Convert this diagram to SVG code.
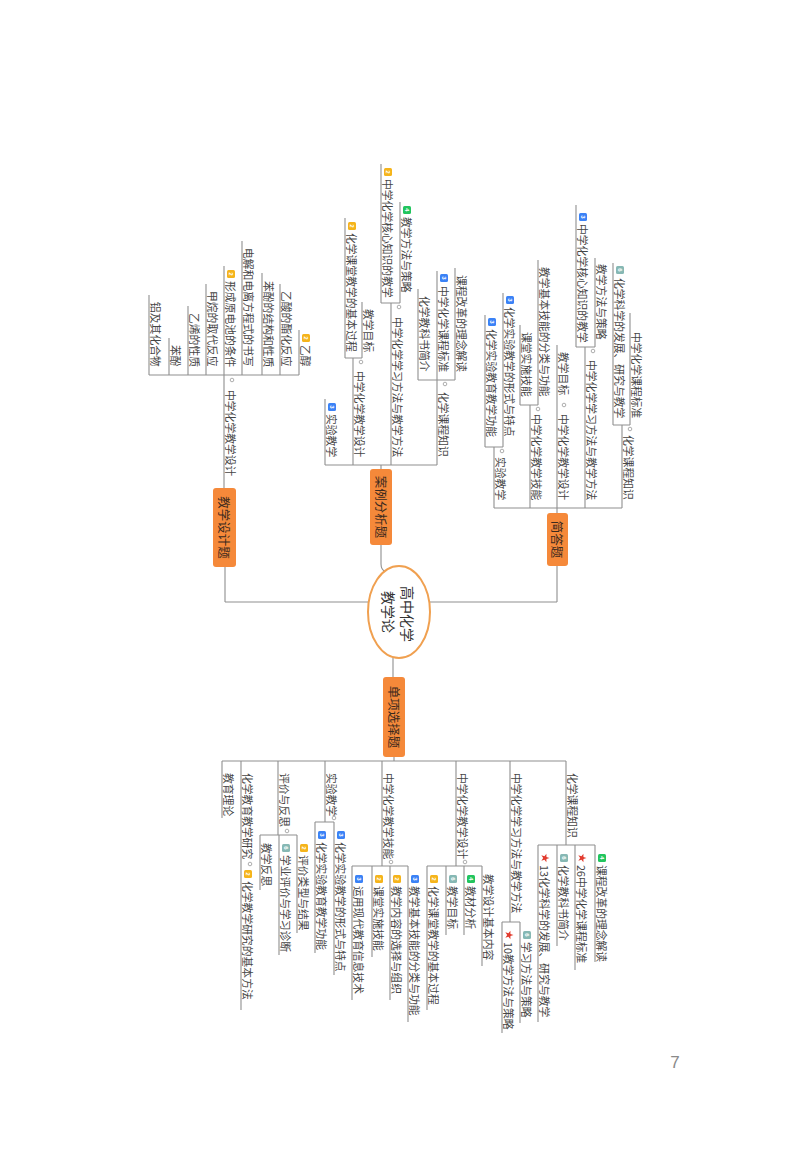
<svg xmlns="http://www.w3.org/2000/svg" xmlns:xlink="http://www.w3.org/1999/xlink" width="800" height="1160" viewBox="0 0 800 1160">
<defs>
<style>
.t{font-family:"Noto Sans CJK SC","Noto Sans",sans-serif;font-size:10.8px;fill:#454545;dominant-baseline:central}
.m{font-family:"Noto Sans CJK SC",sans-serif;font-size:12.5px;fill:#3b2a1e;dominant-baseline:central;text-anchor:middle}
.c{font-family:"Noto Sans CJK SC",sans-serif;font-size:14px;fill:#333;dominant-baseline:central;text-anchor:middle}
.l{stroke:#8f8f8f;stroke-width:1.1;fill:none}
.box{fill:#f5893a}
.b3{fill:#3b82f6}.b2{fill:#f5b41b}.b4{fill:#22c55e}.b6{fill:#86b8b4}
.bn{font-family:"Liberation Sans",sans-serif;font-size:6px;font-weight:bold;fill:#fff;dominant-baseline:central;text-anchor:middle}
.dot{fill:#fff;stroke:#999;stroke-width:0.8}
.st{fill:#e23b2e}
</style>
<polygon id="star" points="0,-4.5 1.06,-1.46 4.28,-1.39 1.71,0.56 2.65,3.64 0,1.8 -2.65,3.64 -1.71,0.56 -4.28,-1.39 -1.06,-1.46"/>
</defs>
<rect width="800" height="1160" fill="#fff"/>

<g id="connectors">
<!-- center -->
<path class="l" d="M225,602 H369 M430,602 H557 M225,567 V602 M557,566 V602"/>
<path class="l" d="M381,545 V564 Q381,570 386,572"/>
<path class="l" d="M393,658 V677"/>
<!-- 简答题 -->
<path class="l" d="M494,508 H622 M557,508 V513"/>
<path class="l" d="M613,425 H630 M576,347 H595 M520,405 H538 M485,447 H503"/>
<!-- 案例分析题 -->
<path class="l" d="M325,465 H437 M381,465 V469"/>
<path class="l" d="M418,380 H455 M381,303 H400 M345,358 H362"/>
<!-- 教学设计题 -->
<path class="l" d="M224,375 V488 M149,375 H299"/>
<!-- 单项选择题 -->
<path class="l" d="M222,761 H566 M394,757 V761"/>
<path class="l" d="M260,835 H297 M315,822 H334 M352,866 H408 M427,866 H482 M502,922 H520 M538,845 H595"/>
</g>

<g id="center">
<ellipse cx="399" cy="612" rx="31" ry="46" fill="#fff" stroke="#f0a050" stroke-width="2"/>
<text class="c" x="408" y="614" transform="rotate(90 408 614)">高中化学</text>
<text class="c" x="389" y="612" transform="rotate(90 389 612)">教学论</text>
</g>

<g id="topic-jianda">
<rect class="box" x="547" y="513" width="21" height="53" rx="3"/>
<text class="m" x="557.5" y="539.5" transform="rotate(90 557.5 539.5)">简答题</text>
</g>
<g id="topic-anli">
<rect class="box" x="370" y="469" width="22" height="76" rx="3"/>
<text class="m" x="381" y="507" transform="rotate(90 381 507)">案例分析题</text>
</g>
<g id="topic-sheji">
<rect class="box" x="213" y="488" width="23" height="79" rx="3"/>
<text class="m" x="224.5" y="527.5" transform="rotate(90 224.5 527.5)">教学设计题</text>
</g>
<g id="topic-xuanze">
<rect class="box" x="383" y="677" width="22" height="80" rx="3"/>
<text class="m" x="394" y="717" transform="rotate(90 394 717)">单项选择题</text>
</g>

<!-- 简答题 children -->
<g id="j-a"><path class="l" d="M622,425 V508"/><circle class="dot" cx="630" cy="429" r="1.8"/><text class="t" x="629" y="435" transform="rotate(90 629 435)">化学课程知识</text></g>
<g id="j-a1"><path class="l" d="M613,263 V425"/><rect class="b6" x="616" y="266" width="8" height="8" rx="1.5"/><text class="bn" x="620" y="270" transform="rotate(90 620 270)">6</text><text class="t" x="620" y="278" transform="rotate(90 620 278)">化学科学的发展、研究与教学</text></g>
<g id="j-a2"><path class="l" d="M630,313 V425"/><text class="t" x="637" y="332" transform="rotate(90 637 332)">中学化学课程标准</text></g>
<g id="j-b"><path class="l" d="M585,347 V508"/><circle class="dot" cx="593" cy="351" r="1.8"/><text class="t" x="592" y="360" transform="rotate(90 592 360)">中学化学学习方法与教学方法</text></g>
<g id="j-b1"><path class="l" d="M576,205 V347"/><rect class="b3" x="579" y="213" width="8" height="8" rx="1.5"/><text class="bn" x="583" y="217" transform="rotate(90 583 217)">3</text><text class="t" x="583" y="224" transform="rotate(90 583 224)">中学化学核心知识的教学</text></g>
<g id="j-b2"><path class="l" d="M595,258 V347"/><text class="t" x="602" y="264" transform="rotate(90 602 264)">教学方法与策略</text></g>
<g id="j-c"><path class="l" d="M557,403 V508"/><circle class="dot" cx="564" cy="405" r="1.8"/><text class="t" x="564" y="414" transform="rotate(90 564 414)">中学化学教学设计</text></g>
<g id="j-c1"><path class="l" d="M557,345 V403"/><text class="t" x="564" y="352" transform="rotate(90 564 352)">教学目标</text></g>
<g id="j-d"><path class="l" d="M530,405 V508"/><circle class="dot" cx="538" cy="409" r="1.8"/><text class="t" x="537" y="414" transform="rotate(90 537 414)">中学化学教学技能</text></g>
<g id="j-d1"><path class="l" d="M520,325 V405"/><text class="t" x="527" y="332" transform="rotate(90 527 332)">课堂实施技能</text></g>
<g id="j-d2"><path class="l" d="M538,260 V405"/><text class="t" x="545" y="267" transform="rotate(90 545 267)">教学基本技能的分类与功能</text></g>
<g id="j-e"><path class="l" d="M494,447 V508"/><circle class="dot" cx="502" cy="451" r="1.8"/><text class="t" x="501" y="457" transform="rotate(90 501 457)">实验教学</text></g>
<g id="j-e1"><path class="l" d="M485,315 V447"/><rect class="b3" x="488" y="318" width="8" height="8" rx="1.5"/><text class="bn" x="492" y="322" transform="rotate(90 492 322)">3</text><text class="t" x="492" y="329" transform="rotate(90 492 329)">化学实验教育教学功能</text></g>
<g id="j-e2"><path class="l" d="M503,293 V447"/><rect class="b3" x="506" y="296" width="8" height="8" rx="1.5"/><text class="bn" x="510" y="300" transform="rotate(90 510 300)">3</text><text class="t" x="510" y="307" transform="rotate(90 510 307)">化学实验教学的形式与特点</text></g>

<!-- 案例分析题 children -->
<g id="a-a"><path class="l" d="M437,380 V465"/><circle class="dot" cx="445" cy="384" r="1.8"/><text class="t" x="444" y="392" transform="rotate(90 444 392)">化学课程知识</text></g>
<g id="a-a1"><path class="l" d="M418,289 V380"/><text class="t" x="425" y="296" transform="rotate(90 425 296)">化学教科书简介</text></g>
<g id="a-a2"><path class="l" d="M437,271 V380"/><rect class="b3" x="440" y="274" width="8" height="8" rx="1.5"/><text class="bn" x="444" y="278" transform="rotate(90 444 278)">3</text><text class="t" x="444" y="286" transform="rotate(90 444 286)">中学化学课程标准</text></g>
<g id="a-a3"><path class="l" d="M455,268 V380"/><text class="t" x="462" y="275" transform="rotate(90 462 275)">课程改革的理念解读</text></g>
<g id="a-b"><path class="l" d="M391,303 V465"/><circle class="dot" cx="399" cy="307" r="1.8"/><text class="t" x="398" y="317" transform="rotate(90 398 317)">中学化学学习方法与教学方法</text></g>
<g id="a-b1"><path class="l" d="M381,164 V303"/><rect class="b2" x="384" y="168" width="8" height="8" rx="1.5"/><text class="bn" x="388" y="172" transform="rotate(90 388 172)">2</text><text class="t" x="388" y="179" transform="rotate(90 388 179)">中学化学核心知识的教学</text></g>
<g id="a-b2"><path class="l" d="M400,202 V303"/><rect class="b4" x="403" y="206" width="8" height="8" rx="1.5"/><text class="bn" x="407" y="210" transform="rotate(90 407 210)">4</text><text class="t" x="407" y="217" transform="rotate(90 407 217)">教学方法与策略</text></g>
<g id="a-c"><path class="l" d="M353,358 V465"/><circle class="dot" cx="361" cy="362" r="1.8"/><text class="t" x="360" y="371" transform="rotate(90 360 371)">中学化学教学设计</text></g>
<g id="a-c1"><path class="l" d="M345,218 V358"/><rect class="b2" x="348" y="222" width="8" height="8" rx="1.5"/><text class="bn" x="352" y="226" transform="rotate(90 352 226)">2</text><text class="t" x="352" y="233" transform="rotate(90 352 233)">化学课堂教学的基本过程</text></g>
<g id="a-c2"><path class="l" d="M362,302 V358"/><text class="t" x="369" y="309" transform="rotate(90 369 309)">教学目标</text></g>
<g id="a-d"><path class="l" d="M325,399 V465"/><rect class="b3" x="328" y="403" width="8" height="8" rx="1.5"/><text class="bn" x="332" y="407" transform="rotate(90 332 407)">3</text><text class="t" x="332" y="414" transform="rotate(90 332 414)">实验教学</text></g>

<!-- 教学设计题 children -->
<g id="s-p"><circle class="dot" cx="232" cy="380" r="1.8"/><text class="t" x="231" y="390" transform="rotate(90 231 390)">中学化学教学设计</text></g>
<g id="s-1"><path class="l" d="M149,295 V375"/><text class="t" x="156" y="302" transform="rotate(90 156 302)">铝及其化合物</text></g>
<g id="s-2"><path class="l" d="M169,338 V375"/><text class="t" x="176" y="345" transform="rotate(90 176 345)">苯酚</text></g>
<g id="s-3"><path class="l" d="M188,306 V375"/><text class="t" x="195" y="313" transform="rotate(90 195 313)">乙烯的性质</text></g>
<g id="s-4"><path class="l" d="M206,284 V375"/><text class="t" x="213" y="291" transform="rotate(90 213 291)">甲烷的取代反应</text></g>
<g id="s-5"><path class="l" d="M224,266 V375"/><rect class="b2" x="227" y="270" width="8" height="8" rx="1.5"/><text class="bn" x="231" y="274" transform="rotate(90 231 274)">2</text><text class="t" x="231" y="281" transform="rotate(90 231 281)">形成原电池的条件</text></g>
<g id="s-6"><path class="l" d="M242,241 V375"/><text class="t" x="249" y="248" transform="rotate(90 249 248)">电解和电离方程式的书写</text></g>
<g id="s-7"><path class="l" d="M262,273 V375"/><text class="t" x="269" y="281" transform="rotate(90 269 281)">苯酚的结构和性质</text></g>
<g id="s-8"><path class="l" d="M280,284 V375"/><text class="t" x="287" y="291" transform="rotate(90 287 291)">乙酸的酯化反应</text></g>
<g id="s-9"><path class="l" d="M299,330 V375"/><rect class="b2" x="302" y="334" width="8" height="8" rx="1.5"/><text class="bn" x="306" y="338" transform="rotate(90 306 338)">2</text><text class="t" x="306" y="345" transform="rotate(90 306 345)">乙醇</text></g>

<!-- 单项选择题 children -->
<g id="x-1"><path class="l" d="M222,761 V818"/><text class="t" x="229" y="773" transform="rotate(90 229 773)">教育理论</text></g>
<g id="x-2"><path class="l" d="M241,761 V1010"/><text class="t" x="248" y="773" transform="rotate(90 248 773)">化学教育教学研究</text><circle class="dot" cx="250" cy="864" r="1.8"/></g>
<g id="x-2a"><rect class="b2" x="244" y="870" width="8" height="8" rx="1.5"/><text class="bn" x="248" y="874" transform="rotate(90 248 874)">2</text><text class="t" x="248" y="881" transform="rotate(90 248 881)">化学教学研究的基本方法</text></g>
<g id="x-3"><path class="l" d="M278,761 V835"/><text class="t" x="285" y="773" transform="rotate(90 285 773)">评价与反思</text><circle class="dot" cx="287" cy="831" r="1.8"/></g>
<g id="x-3a"><path class="l" d="M260,835 V890"/><text class="t" x="267" y="843" transform="rotate(90 267 843)">教学反思</text></g>
<g id="x-3b"><path class="l" d="M279,835 V955"/><rect class="b6" x="282" y="844" width="8" height="8" rx="1.5"/><text class="bn" x="286" y="848" transform="rotate(90 286 848)">6</text><text class="t" x="286" y="855" transform="rotate(90 286 855)">学业评价与学习诊断</text></g>
<g id="x-3c"><path class="l" d="M297,835 V933"/><rect class="b2" x="300" y="844" width="8" height="8" rx="1.5"/><text class="bn" x="304" y="848" transform="rotate(90 304 848)">2</text><text class="t" x="304" y="855" transform="rotate(90 304 855)">评价类型与结果</text></g>
<g id="x-4"><path class="l" d="M325,761 V822"/><text class="t" x="332" y="773" transform="rotate(90 332 773)">实验教学</text><circle class="dot" cx="334" cy="818" r="1.8"/></g>
<g id="x-4a"><path class="l" d="M315,822 V953"/><rect class="b3" x="318" y="831" width="8" height="8" rx="1.5"/><text class="bn" x="322" y="835" transform="rotate(90 322 835)">3</text><text class="t" x="322" y="842" transform="rotate(90 322 842)">化学实验教育教学功能</text></g>
<g id="x-4b"><path class="l" d="M334,822 V975"/><rect class="b3" x="337" y="831" width="8" height="8" rx="1.5"/><text class="bn" x="341" y="835" transform="rotate(90 341 835)">3</text><text class="t" x="341" y="842" transform="rotate(90 341 842)">化学实验教学的形式与特点</text></g>
<g id="x-5"><path class="l" d="M382,761 V866"/><text class="t" x="389" y="773" transform="rotate(90 389 773)">中学化学教学技能</text><circle class="dot" cx="391" cy="862" r="1.8"/></g>
<g id="x-5a"><path class="l" d="M352,866 V1000"/><rect class="b3" x="355" y="875" width="8" height="8" rx="1.5"/><text class="bn" x="359" y="879" transform="rotate(90 359 879)">3</text><text class="t" x="359" y="886" transform="rotate(90 359 886)">运用现代教育信息技术</text></g>
<g id="x-5b"><path class="l" d="M372,866 V957"/><rect class="b2" x="375" y="875" width="8" height="8" rx="1.5"/><text class="bn" x="379" y="879" transform="rotate(90 379 879)">2</text><text class="t" x="379" y="886" transform="rotate(90 379 886)">课堂实施技能</text></g>
<g id="x-5c"><path class="l" d="M390,866 V1000"/><rect class="b2" x="393" y="875" width="8" height="8" rx="1.5"/><text class="bn" x="397" y="879" transform="rotate(90 397 879)">2</text><text class="t" x="397" y="886" transform="rotate(90 397 886)">教学内容的选择与组织</text></g>
<g id="x-5d"><path class="l" d="M408,866 V1022"/><rect class="b3" x="411" y="875" width="8" height="8" rx="1.5"/><text class="bn" x="415" y="879" transform="rotate(90 415 879)">3</text><text class="t" x="415" y="886" transform="rotate(90 415 886)">教学基本技能的分类与功能</text></g>
<g id="x-6"><path class="l" d="M456,761 V866"/><text class="t" x="463" y="773" transform="rotate(90 463 773)">中学化学教学设计</text><circle class="dot" cx="465" cy="862" r="1.8"/></g>
<g id="x-6a"><path class="l" d="M427,866 V1010"/><rect class="b2" x="430" y="875" width="8" height="8" rx="1.5"/><text class="bn" x="434" y="879" transform="rotate(90 434 879)">2</text><text class="t" x="434" y="886" transform="rotate(90 434 886)">化学课堂教学的基本过程</text></g>
<g id="x-6b"><path class="l" d="M446,866 V935"/><rect class="b6" x="449" y="875" width="8" height="8" rx="1.5"/><text class="bn" x="453" y="879" transform="rotate(90 453 879)">6</text><text class="t" x="453" y="886" transform="rotate(90 453 886)">教学目标</text></g>
<g id="x-6c"><path class="l" d="M464,866 V935"/><rect class="b4" x="467" y="875" width="8" height="8" rx="1.5"/><text class="bn" x="471" y="879" transform="rotate(90 471 879)">4</text><text class="t" x="471" y="886" transform="rotate(90 471 886)">教材分析</text></g>
<g id="x-6d"><path class="l" d="M482,866 V966"/><text class="t" x="489" y="874" transform="rotate(90 489 874)">教学设计基本内容</text></g>
<g id="x-7"><path class="l" d="M510,761 V922"/><text class="t" x="517" y="773" transform="rotate(90 517 773)">中学化学学习方法与教学方法</text></g>
<g id="x-7a"><path class="l" d="M502,922 V1033"/><use xlink:href="#star" class="st" transform="translate(509 935) rotate(90)"/><text class="t" x="509" y="942" transform="rotate(90 509 942)">10教学方法与策略</text></g>
<g id="x-7b"><path class="l" d="M520,922 V1023"/><rect class="b6" x="523" y="931" width="8" height="8" rx="1.5"/><text class="bn" x="527" y="935" transform="rotate(90 527 935)">6</text><text class="t" x="527" y="942" transform="rotate(90 527 942)">学习方法与策略</text></g>
<g id="x-8"><path class="l" d="M566,761 V845"/><text class="t" x="573" y="773" transform="rotate(90 573 773)">化学课程知识</text></g>
<g id="x-8a"><path class="l" d="M538,845 V1022"/><use xlink:href="#star" class="st" transform="translate(545 858) rotate(90)"/><text class="t" x="545" y="865" transform="rotate(90 545 865)">13化学科学的发展、研究与教学</text></g>
<g id="x-8b"><path class="l" d="M557,845 V946"/><rect class="b6" x="560" y="854" width="8" height="8" rx="1.5"/><text class="bn" x="564" y="858" transform="rotate(90 564 858)">6</text><text class="t" x="564" y="865" transform="rotate(90 564 865)">化学教科书简介</text></g>
<g id="x-8c"><path class="l" d="M575,845 V970"/><use xlink:href="#star" class="st" transform="translate(582 858) rotate(90)"/><text class="t" x="582" y="865" transform="rotate(90 582 865)">26中学化学课程标准</text></g>
<g id="x-8d"><path class="l" d="M595,845 V962"/><rect class="b4" x="598" y="854" width="8" height="8" rx="1.5"/><text class="bn" x="602" y="858" transform="rotate(90 602 858)">4</text><text class="t" x="602" y="865" transform="rotate(90 602 865)">课程改革的理念解读</text></g>

<text x="675" y="1068" font-family="Liberation Sans, sans-serif" font-size="17" fill="#8a8a8a" text-anchor="middle">7</text>
</svg>
